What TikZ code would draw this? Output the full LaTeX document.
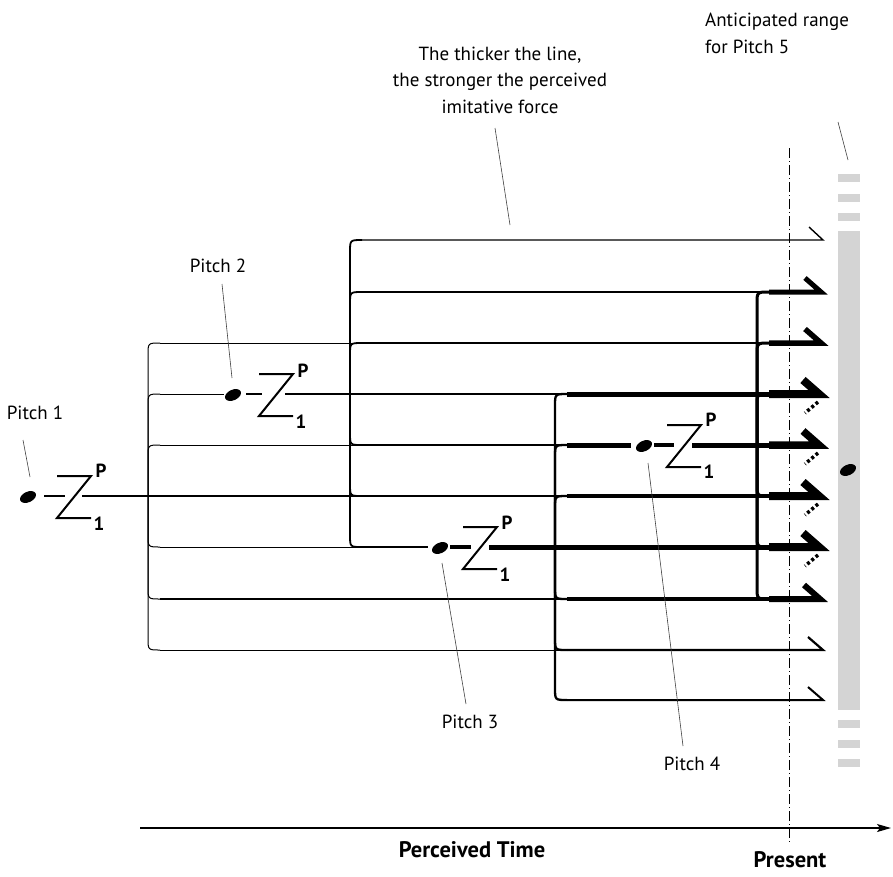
\documentclass[tikz,border=0pt]{standalone}
\usepackage{fontspec}
\setmainfont{PT Sans}
\usetikzlibrary{arrows.meta,shapes.geometric}
\begin{document}
\begin{tikzpicture}[x=1pt,y=-1pt,
  lbl/.style={font=\fontsize{19}{22}\selectfont, inner sep=0},
  bl/.style={font=\bfseries\fontsize{22.5}{26}\selectfont, inner sep=0},
  sub/.style={font=\bfseries\fontsize{19}{21}\selectfont, inner sep=0},
  lead/.style={line width=0.6pt, black!75},
  notedot/.style={ellipse, fill=black, inner sep=0, minimum width=17pt, minimum height=10.5pt, rotate=25},
  zs/.style={line width=2pt, line join=miter},
  harp/.style={line join=miter, miter limit=20},
  dbarb/.style={line width=3.5pt, dash pattern=on 3pt off 2.5pt},
  brk/.style={line cap=butt}
]
\useasboundingbox (0,0) rectangle (893,876);

% anticipated range bar
\fill[black!17] (838,231) rectangle (860,710);
\foreach \y in {174,194,213,720,740,759} \fill[black!17] (838,\y) rectangle (860,\y+8);

% present line
\draw[line width=1pt, dash pattern=on 10pt off 3pt on 1pt off 3pt] (789,148) -- (789,845);

% time axis
\coordinate (axL) at (140,828);
\coordinate (axR) at (891,828);
\draw[line width=1.2pt, -{Stealth[length=14pt,width=8pt,inset=3pt]}] (axL) -- (axR);

% ---------- brackets ----------
% bracket 1 (x=148, center 496)
\foreach \y in {445,394,343} \draw[brk,line width=1pt] (148,496) -- (148,\y+12) .. controls (148,\y) .. (160,\y);
\foreach \y in {547,599,650} \draw[brk,line width=1pt] (148,496) -- (148,\y-12) .. controls (148,\y) .. (160,\y);
% bracket 2 (x=350, center 394)
\foreach \y in {343,292,240} \draw[brk,line width=1.8pt] (350,394) -- (350,\y+12) .. controls (350,\y) .. (362,\y);
\foreach \y in {445,496,547} \draw[brk,line width=1.8pt] (350,394) -- (350,\y-12) .. controls (350,\y) .. (362,\y);
% bracket 3 (x=555, center 547)
\foreach \y in {496,445,394} \draw[brk,line width=2.3pt] (555,547) -- (555,\y+12) .. controls (555,\y) .. (567,\y);
\foreach \y in {599,650,700} \draw[brk,line width=2.3pt] (555,547) -- (555,\y-12) .. controls (555,\y) .. (567,\y);
% bracket 4 (x=757, center 445)
\foreach \y in {394,343,292} \draw[brk,line width=3pt] (757,445) -- (757,\y+12) .. controls (757,\y) .. (769,\y);
\foreach \y in {496,547,599} \draw[brk,line width=3pt] (757,445) -- (757,\y-12) .. controls (757,\y) .. (769,\y);

% ---------- rows ----------
% row 240
\draw[harp,line width=1.4pt] (362,240) -- (823,240) -- (809,227);
% row 292
\draw[line width=1.8pt] (362,292) -- (769,292);
\draw[harp,line width=5pt] (769,292) -- (821,292) -- (805,278);
% row 343
\draw[line width=1pt] (160,343) -- (362,343);
\draw[line width=1.8pt] (362,343) -- (769,343);
\draw[harp,line width=5.5pt] (769,343) -- (821,343) -- (805,329);
% row 394
\draw[line width=1pt] (160,394) -- (224,394);
\draw[line width=2.5pt] (285,394) -- (567,394);
\draw[line width=5pt] (567,394) -- (769,394);
\draw[harp,line width=8pt] (769,394) -- (819,394) -- (803,380);
\draw[dbarb] (818,402) -- (805,413);
% row 445
\draw[line width=1pt] (160,445) -- (362,445);
\draw[line width=2pt] (362,445) -- (567,445);
\draw[line width=5pt] (567,445) -- (631,445);
\draw[line width=5pt] (692,445) -- (769,445);
\draw[harp,line width=7.5pt] (769,445) -- (819,445) -- (803,431);
\draw[dbarb] (818,453) -- (805,464);
% row 496
\draw[line width=1.8pt] (82,496) -- (362,496);
\draw[line width=2.5pt] (362,496) -- (567,496);
\draw[line width=4pt] (567,496) -- (769,496);
\draw[harp,line width=8pt] (769,496) -- (819,496) -- (803,482);
\draw[dbarb] (818,504) -- (805,515);
% row 547
\draw[line width=1pt] (160,547) -- (362,547);
\draw[line width=2pt] (362,547) -- (428,547);
\draw[line width=5pt] (489,547) -- (769,547);
\draw[harp,line width=8pt] (769,547) -- (819,547) -- (803,533);
\draw[dbarb] (818,555) -- (805,566);
% row 599
\draw[line width=1.2pt] (160,599) -- (567,599);
\draw[line width=3.5pt] (567,599) -- (769,599);
\draw[harp,line width=6pt] (769,599) -- (820,599) -- (804,585);
% row 650
\draw[line width=1pt] (160,650) -- (567,650);
\draw[harp,line width=2.2pt] (567,650) -- (823,650) -- (808,637);
% row 700
\draw[harp,line width=2pt] (567,700) -- (823,700) -- (808,687);

% ---------- pitch symbols ----------
% pitch 1 (Z left 57, y 496)
\node[notedot] (dot1) at (28,497) {};
\draw[line width=1.8pt] (44,496) -- (65,496);
\draw[zs] (57,476) -- (91,476) -- (57,518) -- (91,518);
\node[sub] (p1P) at (101,471) {P};
\node[sub] (p1n) at (99,524) {1};
% pitch 2 (Z left 259, y 394)
\node[notedot] (dot2) at (233,395) {};
\draw[line width=2.5pt] (246,394) -- (262,394);
\draw[zs] (259,374) -- (293,374) -- (259,416) -- (293,416);
\node[sub] (p2P) at (303,371) {P};
\node[sub] (p2n) at (301,422) {1};
% pitch 3 (Z left 463, y 547)
\node[notedot] (dot3) at (440,548) {};
\draw[line width=4pt] (450,547) -- (471,547);
\draw[zs] (463,527) -- (497,527) -- (463,569) -- (497,569);
\node[sub] (p3P) at (507,523) {P};
\node[sub] (p3n) at (505,575) {1};
% pitch 4 (Z left 667, y 445)
\node[notedot] (dot4) at (644,446) {};
\draw[line width=4pt] (654,445) -- (674,445);
\draw[zs] (667,425) -- (701,425) -- (667,467) -- (701,467);
\node[sub] (p4P) at (711,420) {P};
\node[sub] (p4n) at (709,472) {1};
% anticipated pitch 5
\node[notedot] (dot5) at (848,470) {};

% ---------- labels ----------
\node[lbl] (l1) at (35,413) {Pitch 1};
\node[lbl] (l2) at (218,266) {Pitch 2};
\node[lbl] (l3) at (470,722) {Pitch 3};
\node[lbl] (l4) at (692,764) {Pitch 4};
\node[lbl, anchor=base] (t1) at (500,60) {The thicker the line,};
\node[lbl, anchor=base] (t2) at (500,86.5) {the stronger the perceived};
\node[lbl, anchor=base] (t3) at (500,113) {imitative force};
\node[lbl, anchor=base west] (a1) at (705,26) {Anticipated range};
\node[lbl, anchor=base west] (a2) at (705,53) {for Pitch 5};
\node[bl] (pt) at (472,850) {Perceived Time};
\node[bl] (pr) at (790,860) {Present};

% leaders
\coordinate (e1) at (30,477);
\coordinate (s1) at (23,440);
\coordinate (e2) at (232,378);
\coordinate (s2) at (222,284);
\coordinate (e4) at (648,463);
\coordinate (s4) at (683,746);
\coordinate (e3) at (442,563);
\coordinate (s3) at (466,704);
\coordinate (et) at (510,225);
\coordinate (st) at (495,128);
\coordinate (ea) at (848,160);
\coordinate (sa) at (838,122);
\draw[lead] (s1) -- (e1);
\draw[lead] (s2) -- (e2);
\draw[lead] (e3) -- (s3);
\draw[lead] (e4) -- (s4);
\draw[lead] (st) -- (et);
\draw[lead] (sa) -- (ea);
\end{tikzpicture}
\end{document}
